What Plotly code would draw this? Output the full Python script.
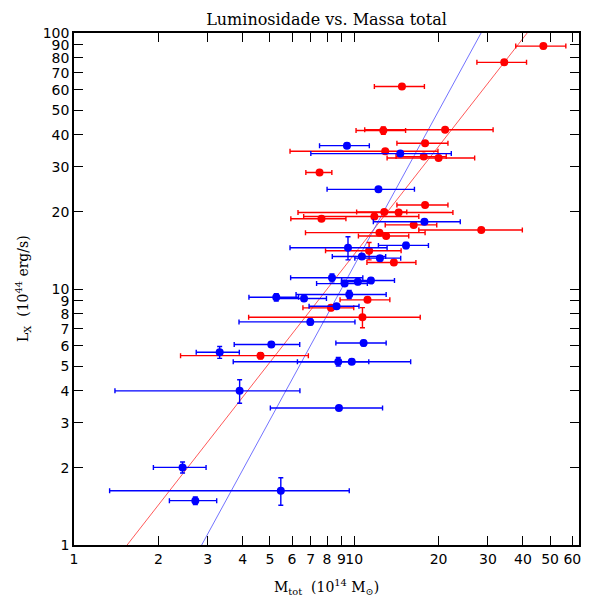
import numpy as np
import plotly.graph_objects as go

# Red sample
red_m = [47.3, 34.3, 14.8, 12.7, 21.1, 17.9, 12.9, 17.7, 20.0, 7.52, 17.9, 12.8, 14.4,
         7.64, 11.8, 16.3, 28.4, 12.3, 13.0, 11.3, 13.85, 11.15, 8.26, 10.7, 4.63]
red_m_err = [9.6, 6.9, 3.0, 2.55, 10.2, 3.7, 7.0, 3.6, 6.9, 0.8, 3.7, 2.6, 8.1,
             1.7, 5.2, 3.4, 11.4, 5.6, 2.65, 3.4, 2.75, 2.25, 1.7, 6.5, 2.23]
red_l = [88.9, 76.8, 61.8, 41.6, 41.9, 37.1, 34.5, 32.9, 32.5, 28.5, 21.3, 20.0, 19.9,
         18.8, 19.2, 17.8, 17.0, 16.6, 16.1, 14.1, 12.7, 9.07, 8.44, 7.76, 5.49]
red_l_err = [2.0, 1.5, 1.2, 1.4, 0.8, 0.7, 0.6, 0.6, 0.6, 0.6, 0.4, 0.4, 0.4,
             0.4, 0.4, 0.3, 0.3, 0.3, 0.3, 1.1, 0.3, 0.2, 0.2, 0.7, 0.15]

# Blue sample
blue_m = [9.42, 14.6, 12.2, 17.8, 15.3, 9.5, 10.65, 12.35, 8.33, 11.47, 10.3, 9.24, 9.6,
          5.27, 6.62, 8.65, 6.97, 5.06, 10.8, 3.31, 8.77, 9.8, 3.9, 8.82, 2.44, 5.47, 2.71]
blue_m_err = [1.9, 7.6, 4.2, 6.1, 3.1, 3.6, 2.3, 2.3, 2.4, 2.45, 1.3, 1.9, 3.4,
              1.06, 1.34, 1.75, 3.09, 1.33, 2.2, 0.58, 2.5, 6.1, 2.5, 3.8, 0.52, 4.13, 0.52]
blue_l = [36.3, 33.8, 24.5, 18.3, 14.8, 14.5, 13.4, 13.2, 11.06, 10.8, 10.67, 10.5, 9.52,
          9.28, 9.18, 8.56, 7.44, 6.07, 6.15, 5.66, 5.2, 5.2, 4.0, 3.43, 2.01, 1.63, 1.49]
blue_l_err = [0.8, 0.6, 0.5, 0.4, 0.4, 1.5, 0.3, 0.3, 0.4, 0.25, 0.25, 0.25, 0.35,
              0.3, 0.2, 0.2, 0.2, 0.15, 0.15, 0.3, 0.2, 0.12, 0.42, 0.05, 0.1, 0.2, 0.05]

# Fit lines: log10(L) = slope*log10(M) + intercept
red_fit = (1.401, -0.2656)
blue_fit = (2.006, -0.914)

x_ticks = [1, 2, 3, 4, 5, 6, 7, 8, 9, 10, 20, 30, 40, 50, 60]
y_ticks = [1, 2, 3, 4, 5, 6, 7, 8, 9, 10, 20, 30, 40, 50, 60, 70, 80, 90, 100]

x_max = 63.4
xs = np.logspace(0, np.log10(x_max), 200)

fig = go.Figure()
fig.add_trace(go.Scatter(x=xs, y=10 ** (red_fit[0] * np.log10(xs) + red_fit[1]),
                         mode="lines", line=dict(color="rgba(255,60,60,0.85)", width=1),
                         showlegend=False, hoverinfo="skip"))
fig.add_trace(go.Scatter(x=xs, y=10 ** (blue_fit[0] * np.log10(xs) + blue_fit[1]),
                         mode="lines", line=dict(color="rgba(90,90,255,0.85)", width=1),
                         showlegend=False, hoverinfo="skip"))

for mx, mxe, ly, lye, col in [(red_m, red_m_err, red_l, red_l_err, "#ff0000"),
                              (blue_m, blue_m_err, blue_l, blue_l_err, "#0000ff")]:
    fig.add_trace(go.Scatter(
        x=mx, y=ly, mode="markers",
        marker=dict(color=col, size=8, line=dict(width=0)),
        error_x=dict(type="data", array=mxe, color=col, thickness=1.4, width=2.5),
        error_y=dict(type="data", array=lye, color=col, thickness=1.4, width=2.5),
        showlegend=False))

axis_common = dict(type="log", ticks="inside", ticklen=9, tickwidth=1.2, tickcolor="black",
                   showline=True, linecolor="black", linewidth=1.6, mirror="ticks",
                   showgrid=False, zeroline=False, automargin=False, tickangle=0,
                   tickfont=dict(family="DejaVu Sans", size=14, color="black"))

fig.update_xaxes(range=[0, np.log10(x_max)], tickvals=x_ticks,
                 ticktext=[str(v) for v in x_ticks], **axis_common)
fig.update_yaxes(range=[0, 2], tickvals=y_ticks,
                 ticktext=[str(v) for v in y_ticks], **axis_common)

fig.update_layout(
    width=590, height=596,
    margin=dict(l=74, r=11, t=33, b=51),
    paper_bgcolor="white", plot_bgcolor="white",
    title=dict(text="Luminosidade vs. Massa total", x=(74 + 579) / 2 / 590, xanchor="center",
               y=1 - 19 / 596, yanchor="middle",
               font=dict(family="DejaVu Serif", size=16, color="black")),
    annotations=[
        dict(text="M<sub>tot</sub>  (10<sup>14</sup> M<sub>⊙</sub>)", xref="paper", yref="paper",
             x=0.5, y=-42 / 512, xanchor="center", yanchor="middle", showarrow=False,
             font=dict(family="DejaVu Serif", size=14, color="black")),
        dict(text="L<sub>X</sub>  (10<sup>44</sup> erg/s)", xref="paper", yref="paper",
             x=-51 / 505, y=0.5, xanchor="center", yanchor="middle", textangle=-90,
             showarrow=False, font=dict(family="DejaVu Serif", size=14, color="black")),
    ],
)

fig.write_html("out.html")
